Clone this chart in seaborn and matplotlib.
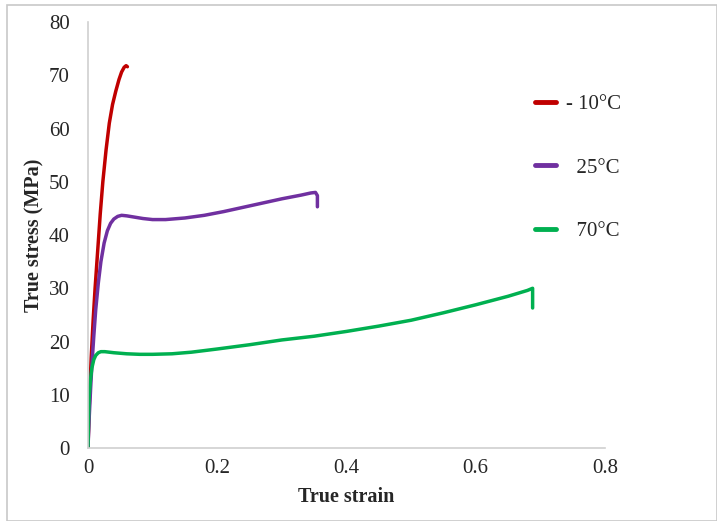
import numpy as np
import pandas as pd
import matplotlib
matplotlib.use("Agg")
import matplotlib.pyplot as plt
import seaborn as sns
from matplotlib.patches import Rectangle

# true strain / true stress (MPa)
strain_m10 = [0, 0.002, 0.005, 0.008, 0.011, 0.015, 0.019, 0.023, 0.028, 0.033,
              0.038, 0.043, 0.048, 0.052, 0.056, 0.059, 0.061]
stress_m10 = [0, 8, 17, 24, 30, 37, 44, 50, 56, 61,
              64.5, 67, 69.2, 70.6, 71.5, 71.8, 71.6]

strain_25 = [0, 0.002, 0.004, 0.006, 0.009, 0.012, 0.016, 0.020, 0.025, 0.030,
             0.035, 0.040, 0.046, 0.052, 0.060, 0.070, 0.085, 0.100, 0.120, 0.150,
             0.180, 0.210, 0.240, 0.270, 0.300, 0.330, 0.345, 0.352, 0.355, 0.355]
stress_25 = [0, 6, 11, 15.5, 21, 26, 31, 35, 38.5, 40.8,
             42.2, 43.0, 43.5, 43.7, 43.6, 43.4, 43.1, 42.9, 42.9, 43.2,
             43.7, 44.4, 45.2, 46.0, 46.8, 47.5, 47.9, 48.0, 47.4, 45.3]

strain_70 = [0, 0.001, 0.002, 0.004, 0.006, 0.009, 0.012, 0.016, 0.020, 0.026,
             0.040, 0.060, 0.080, 0.100, 0.130, 0.160, 0.200, 0.250, 0.300, 0.350,
             0.400, 0.450, 0.500, 0.550, 0.600, 0.650, 0.680, 0.688, 0.688]
stress_70 = [0, 6, 10, 13, 15, 16.6, 17.4, 17.9, 18.1, 18.1,
             17.9, 17.7, 17.6, 17.6, 17.7, 18.0, 18.6, 19.4, 20.3, 21.0,
             21.9, 22.9, 24.0, 25.4, 26.9, 28.5, 29.6, 30.0, 26.3]

labels = ["- 10°C", "  25°C", "  70°C"]
colors = ["#C00000", "#7030A0", "#00B050"]
x_ticks = [0, 0.2, 0.4, 0.6, 0.8]
y_ticks = [0, 10, 20, 30, 40, 50, 60, 70, 80]

frames = []
for lab, xs, ys in zip(labels, [strain_m10, strain_25, strain_70],
                       [stress_m10, stress_25, stress_70]):
    frames.append(pd.DataFrame({"strain": xs, "stress": ys, "temp": lab}))
df = pd.concat(frames, ignore_index=True)

sns.set_style("white")
plt.rcParams["font.family"] = ["Liberation Serif", "DejaVu Serif"]

fig = plt.figure(figsize=(7.17, 5.21), dpi=100)
ax = fig.add_axes([0.1227, 0.140, 0.7211, 0.8178])

sns.lineplot(data=df, x="strain", y="stress", hue="temp", palette=colors,
             sort=False, estimator=None, linewidth=2.5, ax=ax)
for ln in ax.get_lines():
    ln.set_solid_joinstyle("round")

ax.set_xlim(0, 0.8)
ax.set_ylim(0, 80)
ax.set_xticks(x_ticks)
ax.set_xticklabels(["0", "0.2", "0.4", "0.6", "0.8"])
ax.set_yticks(y_ticks)
ax.tick_params(axis="x", labelsize=15, length=0, pad=8)
ax.tick_params(axis="y", labelsize=15, length=0, pad=13)
ax.set_xlabel("True strain", fontsize=14.5, fontweight="bold", labelpad=6)
ax.set_ylabel("True stress (MPa)", fontsize=14.5, fontweight="bold", labelpad=3)

for side in ["top", "right"]:
    ax.spines[side].set_visible(False)
for side in ["left", "bottom"]:
    ax.spines[side].set_color("#d0d0d0")
    ax.spines[side].set_linewidth(1.2)

leg = ax.legend(loc="upper left", bbox_to_anchor=(0.829, 0.873), frameon=False,
                fontsize=15, handlelength=1.0, handletextpad=0.45, labelspacing=2.1)
for h in leg.get_lines():
    h.set_linewidth(3.5)

fig.patches.append(Rectangle((7 / 717, 0), 1 - 7 / 717, 1 - 5 / 521,
                             transform=fig.transFigure, fill=False,
                             edgecolor="#c8c8c8", linewidth=1.2))

fig.savefig("out.png", dpi=100)
